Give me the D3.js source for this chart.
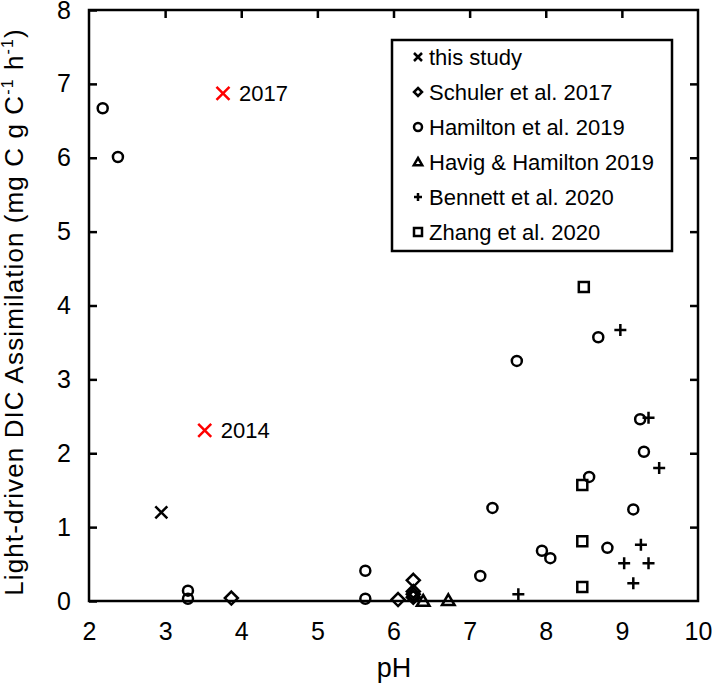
<!DOCTYPE html>
<html>
<head>
<meta charset="utf-8">
<script src="https://cdn.jsdelivr.net/npm/d3@7"></script>
<style>
  body { margin: 0; background: #fff; }
  text { font-family: "Liberation Sans", Arial, sans-serif; fill: #000; }
</style>
</head>
<body>
<div id="chart"></div>
<script>
// Data: [pH, assimilation]
var thisStudy = [ [ 2.95, 1.2 ] ];
var thisStudyRed = [ [ 3.52, 2.31, "2014" ], [ 3.76, 6.87, "2017" ] ];
var schuler = [ [ 3.87, 0.04 ], [ 6.06, 0.02 ], [ 6.26, 0.28 ], [ 6.26, 0.13 ], [ 6.26, 0.09 ], [ 6.26, 0.05 ] ];
var hamilton = [ [ 2.18, 6.67 ], [ 2.38, 6.01 ], [ 3.3, 0.14 ], [ 3.3, 0.03 ], [ 5.63, 0.41 ], [ 5.63, 0.03 ],
  [ 6.26, 0.06 ], [ 7.14, 0.34 ], [ 7.3, 1.26 ], [ 7.62, 3.25 ], [ 7.95, 0.68 ], [ 8.06, 0.58 ],
  [ 8.57, 1.68 ], [ 8.69, 3.57 ], [ 8.81, 0.72 ], [ 9.15, 1.24 ], [ 9.24, 2.46 ], [ 9.29, 2.02 ] ];
var havig = [ [ 6.39, 0.0 ], [ 6.72, 0.01 ] ];
var bennett = [ [ 7.64, 0.09 ], [ 8.98, 3.67 ], [ 9.03, 0.51 ], [ 9.15, 0.24 ], [ 9.25, 0.76 ],
  [ 9.35, 2.48 ], [ 9.35, 0.51 ], [ 9.49, 1.8 ] ];
var zhang = [ [ 8.48, 0.19 ], [ 8.48, 0.81 ], [ 8.48, 1.57 ], [ 8.5, 4.25 ] ];

var legendLabels = [ "this study", "Schuler et al. 2017", "Hamilton et al. 2019",
  "Havig & Hamilton 2019", "Bennett et al. 2020", "Zhang et al. 2020" ];
var xTicks = [ 2, 3, 4, 5, 6, 7, 8, 9, 10 ];
var yTicks = [ 0, 1, 2, 3, 4, 5, 6, 7, 8 ];

var width = 712, height = 685;
var margin = { top: 10, right: 14, bottom: 84, left: 89 };
var innerWidth = width - margin.left - margin.right,
  innerHeight = height - margin.top - margin.bottom;

var svg = d3.select( "#chart" ).append( "svg" )
  .attr( "width", width )
  .attr( "height", height );

var g = svg.append( "g" )
  .attr( "transform", "translate(" + margin.left + "," + margin.top + ")" );

var xScale = d3.scaleLinear().domain( [ 2, 10 ] ).range( [ 0, innerWidth ] );
var yScale = d3.scaleLinear().domain( [ 0, 8 ] ).range( [ innerHeight, 0 ] );

// Symbol paths, centred at 0,0
var shapes = {
  cross: function( s ) { return "M" + -s + "," + -s + "L" + s + "," + s + "M" + -s + "," + s + "L" + s + "," + -s; },
  diamond: function( s ) { return "M0," + -s + "L" + s + ",0L0," + s + "L" + -s + ",0Z"; },
  circle: function( s ) { return "M" + -s + ",0A" + s + "," + s + " 0 1,0 " + s + ",0A" + s + "," + s + " 0 1,0 " + -s + ",0Z"; },
  triangle: function( s ) { return "M0," + -s + "L" + s * 1.05 + "," + s * 0.8 + "L" + -s * 1.05 + "," + s * 0.8 + "Z"; },
  plus: function( s ) { return "M" + -s + ",0L" + s + ",0M0," + -s + "L0," + s; },
  square: function( s ) { return "M" + -s + "," + -s + "L" + s + "," + -s + "L" + s + "," + s + "L" + -s + "," + s + "Z"; }
};

var series = [
  { data: thisStudy, shape: "cross", size: 6, color: "#000" },
  { data: schuler, shape: "diamond", size: 6.5, color: "#000" },
  { data: hamilton, shape: "circle", size: 5, color: "#000" },
  { data: havig, shape: "triangle", size: 6, color: "#000" },
  { data: bennett, shape: "plus", size: 6, color: "#000" },
  { data: zhang, shape: "square", size: 5, color: "#000" }
];

// Axes frame
g.append( "rect" )
  .attr( "width", innerWidth )
  .attr( "height", innerHeight )
  .attr( "fill", "none" )
  .attr( "stroke", "#000" )
  .attr( "stroke-width", 2.5 );

// y ticks on left and right, pointing inward
var yAxisL = d3.axisLeft( yScale ).tickValues( yTicks ).tickSizeInner( -8 ).tickSizeOuter( 0 ).tickPadding( 18 );
var gy = g.append( "g" ).call( yAxisL );
gy.select( ".domain" ).remove();
gy.selectAll( "line" ).attr( "stroke-width", 2.5 );
gy.selectAll( "text" ).attr( "font-size", 25 ).attr( "font-family", "Liberation Sans, Arial, sans-serif" );

var yAxisR = d3.axisRight( yScale ).tickValues( yTicks.slice( 1, -1 ) ).tickSizeInner( -8 ).tickSizeOuter( 0 );
var gyr = g.append( "g" ).attr( "transform", "translate(" + innerWidth + ",0)" ).call( yAxisR );
gyr.select( ".domain" ).remove();
gyr.selectAll( "text" ).remove();
gyr.selectAll( "line" ).attr( "stroke-width", 2.5 );

// x labels at bottom (no ticks), ticks on top edge pointing inward
var xAxisB = d3.axisBottom( xScale ).tickValues( xTicks ).tickSize( 0 ).tickPadding( 21 );
var gx = g.append( "g" ).attr( "transform", "translate(0," + innerHeight + ")" ).call( xAxisB );
gx.select( ".domain" ).remove();
gx.selectAll( "line" ).remove();
gx.selectAll( "text" ).attr( "font-size", 25 ).attr( "font-family", "Liberation Sans, Arial, sans-serif" );

var xAxisT = d3.axisTop( xScale ).tickValues( xTicks.slice( 1, -1 ) ).tickSizeInner( -8 ).tickSizeOuter( 0 );
var gxt = g.append( "g" ).call( xAxisT );
gxt.select( ".domain" ).remove();
gxt.selectAll( "text" ).remove();
gxt.selectAll( "line" ).attr( "stroke-width", 2.5 );

// Axis titles
svg.append( "text" )
  .attr( "x", 394 )
  .attr( "y", 677 )
  .attr( "text-anchor", "middle" )
  .attr( "font-size", 27 )
  .text( "pH" );

var yTitle = svg.append( "text" )
  .attr( "transform", "translate(23,312) rotate(-90)" )
  .attr( "text-anchor", "middle" )
  .attr( "font-size", 26 )
  .attr( "letter-spacing", 1.1 );
yTitle.append( "tspan" ).text( "Light-driven DIC Assimilation (mg C g C" );
yTitle.append( "tspan" ).attr( "dy", -10 ).attr( "font-size", 16 ).text( "-1" );
yTitle.append( "tspan" ).attr( "dy", 10 ).text( " h" );
yTitle.append( "tspan" ).attr( "dy", -10 ).attr( "font-size", 16 ).text( "-1" );
yTitle.append( "tspan" ).attr( "dy", 10 ).text( ")" );

// Markers
series.forEach( function( s ) {
  g.append( "g" ).selectAll( "path" )
    .data( s.data )
    .enter()
    .append( "path" )
      .attr( "transform", function( d ) { return "translate(" + xScale( d[ 0 ] ) + "," + yScale( d[ 1 ] ) + ")"; } )
      .attr( "d", shapes[ s.shape ]( s.size ) )
      .attr( "fill", "none" )
      .attr( "stroke", s.color )
      .attr( "stroke-width", 2.5 );
} );

// Red crosses with year labels
var red = g.append( "g" ).selectAll( "g" )
  .data( thisStudyRed )
  .enter()
  .append( "g" )
    .attr( "transform", function( d ) { return "translate(" + xScale( d[ 0 ] ) + "," + yScale( d[ 1 ] ) + ")"; } );
red.append( "path" )
  .attr( "d", shapes.cross( 6.5 ) )
  .attr( "stroke", "#ff0000" )
  .attr( "stroke-width", 2.5 );
red.append( "text" )
  .attr( "x", 16 )
  .attr( "dy", "0.35em" )
  .attr( "font-size", 22 )
  .text( function( d ) { return d[ 2 ]; } );

// Legend
var legend = svg.append( "g" ).attr( "transform", "translate(392,40)" );
legend.append( "rect" )
  .attr( "width", 280 )
  .attr( "height", 211 )
  .attr( "fill", "#fff" )
  .attr( "stroke", "#000" )
  .attr( "stroke-width", 2.5 );

var items = legend.selectAll( ".item" )
  .data( series )
  .enter()
  .append( "g" )
    .attr( "class", "item" )
    .attr( "transform", function( d, i ) { return "translate(26," + ( 17 + i * 35 ) + ")"; } );
items.append( "path" )
  .attr( "d", function( d ) { return shapes[ d.shape ]( 4 ); } )
  .attr( "fill", "none" )
  .attr( "stroke", "#000" )
  .attr( "stroke-width", 2.5 );
items.append( "text" )
  .attr( "x", 11 )
  .attr( "dy", "0.35em" )
  .attr( "font-size", 22 )
  .text( function( d, i ) { return legendLabels[ i ]; } );
</script>
</body>
</html>
